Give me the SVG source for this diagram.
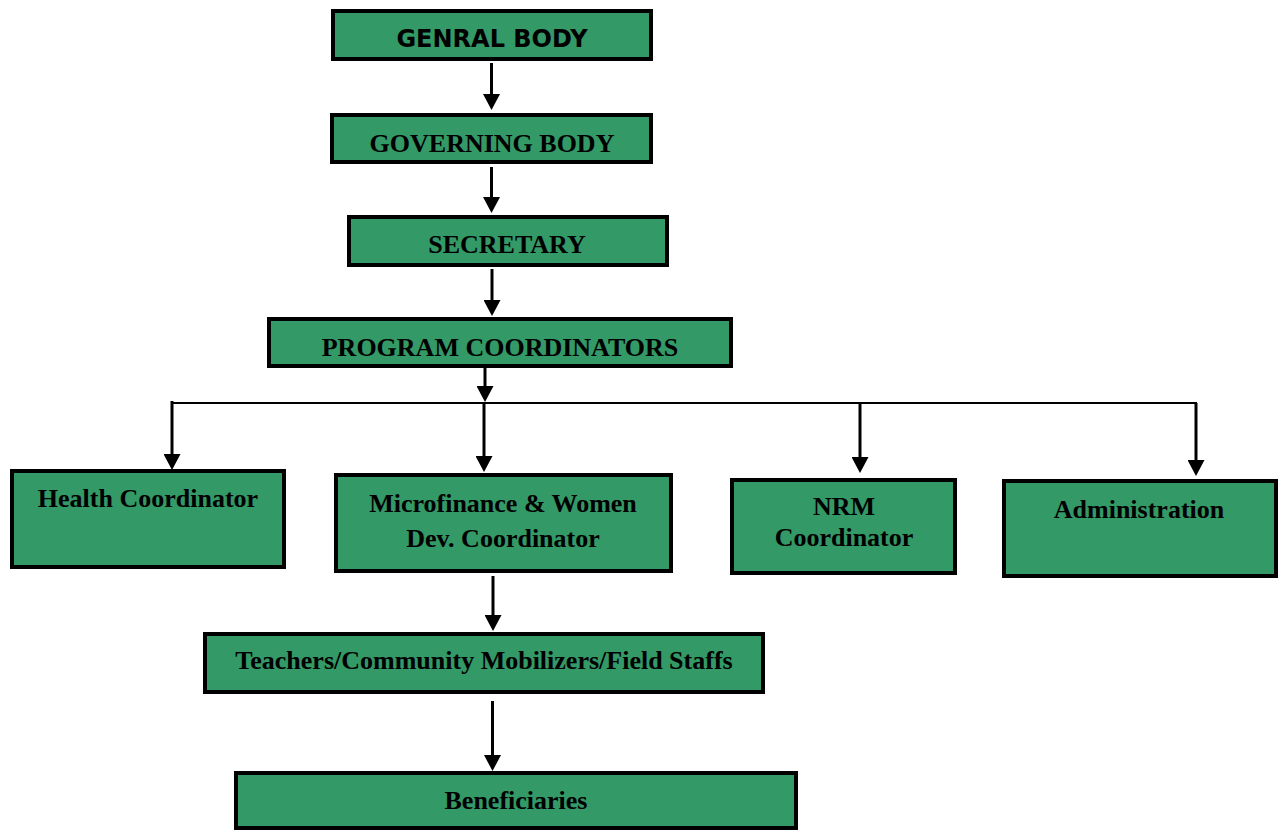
<svg xmlns="http://www.w3.org/2000/svg" width="1282" height="831" viewBox="0 0 1282 831">
<defs>
<marker id="ah" markerUnits="userSpaceOnUse" markerWidth="17" markerHeight="17" refX="5" refY="8.5" orient="auto" viewBox="0 0 16 17">
<path d="M0,0 L16,8.5 L0,17 Z" fill="#000"/>
</marker>
</defs>
<style>
.box{fill:#339966;stroke:#000;stroke-width:4}
.t{font-family:"Liberation Serif","Times New Roman",serif;font-weight:bold;font-size:26px;fill:#000;text-anchor:middle}
.ts{font-family:"DejaVu Sans",Verdana,sans-serif;font-weight:bold;font-size:24px;fill:#000;text-anchor:middle}
.c{stroke:#000;stroke-width:3;fill:none}
.ca{stroke:#000;stroke-width:3;fill:none;marker-end:url(#ah)}
</style>
<rect width="1282" height="831" fill="#fff"/>
<g id="connectors">
<line class="ca" x1="491.5" y1="63" x2="491.5" y2="99"/>
<line class="ca" x1="491.5" y1="167" x2="491.5" y2="202"/>
<line class="ca" x1="492" y1="269" x2="492" y2="305"/>
<line class="ca" x1="485" y1="368" x2="485" y2="391"/>
<line class="c" x1="172" y1="403" x2="1197" y2="403" style="stroke-width:2"/>
<line class="ca" x1="172" y1="401" x2="172" y2="459"/>
<line class="ca" x1="484" y1="403" x2="484" y2="461"/>
<line class="ca" x1="860" y1="403" x2="860" y2="462"/>
<line class="ca" x1="1196" y1="403" x2="1196" y2="465"/>
<line class="ca" x1="493" y1="576" x2="493" y2="620"/>
<line class="ca" x1="492.5" y1="701" x2="492.5" y2="760"/>
</g>
<g id="genral-body">
<rect class="box" x="333" y="11" width="318" height="48"/>
<text class="ts" x="492" y="47">GENRAL BODY</text>
</g>
<g id="governing-body">
<rect class="box" x="332" y="115" width="319" height="47"/>
<text class="t" x="492" y="152">GOVERNING BODY</text>
</g>
<g id="secretary">
<rect class="box" x="349" y="217" width="318" height="48"/>
<text class="t" x="507" y="253">SECRETARY</text>
</g>
<g id="program-coordinators">
<rect class="box" x="269" y="319" width="462" height="47"/>
<text class="t" x="500" y="356">PROGRAM COORDINATORS</text>
</g>
<g id="health-coordinator">
<rect class="box" x="12" y="471" width="272" height="96"/>
<text class="t" x="148" y="507">Health Coordinator</text>
</g>
<g id="microfinance-coordinator">
<rect class="box" x="336" y="475" width="335" height="96"/>
<text class="t" x="503" y="512">Microfinance &amp; Women</text>
<text class="t" x="503" y="547">Dev. Coordinator</text>
</g>
<g id="nrm-coordinator">
<rect class="box" x="732" y="480" width="223" height="93"/>
<text class="t" x="844" y="515">NRM</text>
<text class="t" x="844" y="546">Coordinator</text>
</g>
<g id="administration">
<rect class="box" x="1004" y="481" width="272" height="95"/>
<text class="t" x="1139" y="518">Administration</text>
</g>
<g id="field-staffs">
<rect class="box" x="205" y="634" width="558" height="58"/>
<text class="t" x="484" y="669">Teachers/Community Mobilizers/Field Staffs</text>
</g>
<g id="beneficiaries">
<rect class="box" x="236" y="773" width="560" height="55"/>
<text class="t" x="516" y="809">Beneficiaries</text>
</g>
</svg>
